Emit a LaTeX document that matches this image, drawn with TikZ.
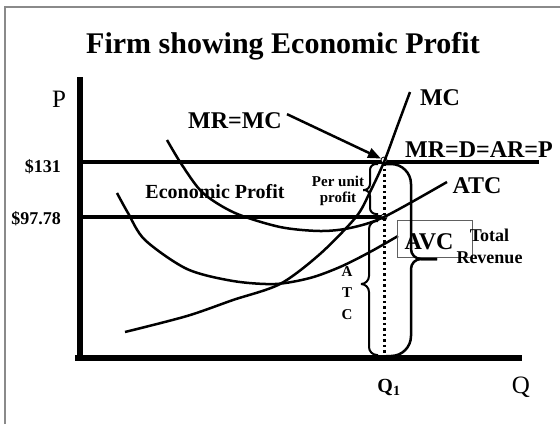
\documentclass[tikz,border=0pt]{standalone}
\usepackage{fontspec}
\setmainfont{Liberation Serif}
\usepackage{tikz}
\usetikzlibrary{arrows.meta,positioning}
\definecolor{FrameGray}{HTML}{8A8A8A}
\definecolor{BoxGray}{HTML}{606060}

\begin{document}
\begin{tikzpicture}[x=1pt,y=-1pt,
  curve/.style={line width=2.5pt},
  axisline/.style={line width=6pt},
  levelline/.style={line width=4.5pt},
  bracket/.style={line width=2pt},
  eqdot/.style={circle,draw,fill=white,line width=0.8pt,inner sep=0pt,minimum size=6pt},
  lblbig/.style={font=\fontsize{24}{28}\selectfont\bfseries,inner sep=0pt,anchor=base},
  lblmid/.style={font=\fontsize{18}{22}\selectfont\bfseries,inner sep=0pt},
  lblsmall/.style={font=\fontsize{15}{16}\selectfont\bfseries,inner sep=0pt,align=center}]
\useasboundingbox (0,0) rectangle (560,424);
\draw[line width=1.2pt,draw=FrameGray] (5,424) -- (5,7) -- (560,7);
\node[font=\fontsize{30}{34}\selectfont\bfseries,inner sep=0pt,anchor=base] (title) at (283,53) {Firm showing Economic Profit};
\draw[axisline] (80,77) -- (80,361);
\draw[axisline] (75,358) -- (522,358);
\node[font=\fontsize{25}{28}\selectfont,inner sep=0pt,anchor=base] (plbl) at (59,107) {P};
\node[font=\fontsize{25}{28}\selectfont,inner sep=0pt,anchor=base] (qlbl) at (521,393) {Q};
\node[font=\fontsize{20}{24}\selectfont\bfseries,inner sep=0pt,anchor=base] (qone) at (389,392) {Q\textsubscript{1}};
\node[lblmid,anchor=base east] (p131) at (61,172) {\$131};
\node[lblmid,anchor=base east] (p9778) at (61,224) {\$97.78};
\draw[levelline] (80,162) -- (539,162);
\draw[levelline] (80,217) -- (384,217);
\node[eqdot] (eq) at (384,160) {};
\node[eqdot] (atcpt) at (384,217) {};
\draw[line width=3pt,dash pattern=on 2.5pt off 3pt] (eq.south) -- (384,356);
\draw[curve] plot[smooth] coordinates {(167,140) (182,165) (203,193) (235,213) (280,227) (320,231) (350,228) (384,217) (447,182)};
\draw[curve] plot[smooth] coordinates {(117,193) (128,213) (145,240) (187,269) (233,281) (275,284) (310,278) (340,267) (370,252) (398,236)};
\draw[curve] plot[smooth] coordinates {(125,332) (187,316) (233,300) (280,284) (320,254) (356,217) (370,192) (384,162) (397,127) (410,92)};
\node[lblbig] (mrmclbl) at (235,128) {MR=MC};
\draw[line width=2.5pt,-{Triangle[length=13pt,width=10pt]}] ([xshift=5pt]mrmclbl.east) ++(0,-6) -- (eq);
\node[lblbig] (mclbl) at (440,105) {MC};
\node[lblbig] (mrlbl) at (479,157) {MR=D=AR=P};
\node[lblbig] (atclbl) at (477,193) {ATC};
\node[draw=BoxGray,line width=0.8pt,minimum width=75pt,minimum height=37pt,inner sep=0pt] (avcbox) at (434.5,238.5) {};
\node[lblbig] (avclbl) at (429,249) {AVC};
\node[lblmid,font=\fontsize{20}{24}\selectfont\bfseries,anchor=base] (econ) at (215,198) {Economic Profit};
\node[lblsmall,anchor=north] (perunit) at (338,176) {Per unit\\profit};
\node[lblsmall,font=\fontsize{15}{21.5}\selectfont\bfseries,anchor=north] (atcside) at (347,266) {A\\T\\C};
\node[lblmid,align=center,anchor=north] (trlbl) at (489.5,229) {Total\\Revenue};
\draw[bracket,rounded corners=6pt] (378,164) -| (370,190) -- (363,190);
\draw[bracket,rounded corners=6pt] (378,214) -| (370,190) -- (363,190);
\draw[bracket,rounded corners=8pt] (378,221) -| (369,284) -- (361,284);
\draw[bracket,rounded corners=8pt] (378,355) -| (369,284) -- (361,284);
\draw[line width=2.5pt] (386,164) [rounded corners=20pt] -| (411,230) [rounded corners=10pt] |- (437,259);
\draw[line width=2.5pt] (386,356) [rounded corners=20pt] -| (411,290) [rounded corners=10pt] |- (437,259);
\end{tikzpicture}
\end{document}
